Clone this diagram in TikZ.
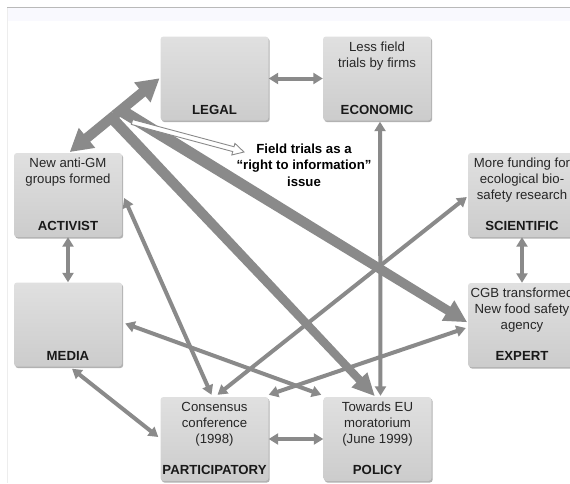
\documentclass[tikz,border=0pt]{standalone}
\usepackage{fontspec}
\setmainfont{Liberation Sans}
\usetikzlibrary{arrows.meta,calc,shadows}
\definecolor{agray}{RGB}{138,138,138}
\definecolor{boxtop}{RGB}{224,224,224}
\definecolor{boxbot}{RGB}{204,204,204}
\definecolor{topline}{RGB}{185,185,185}
\definecolor{band}{RGB}{249,249,254}
\newcommand\wedgearrow[7][fill=agray]{%
 \path[#1] let \p1=(#2), \p2=(#3), \n1={atan2(\y2-\y1,\x2-\x1)} in
 ($(#2)+(\n1+90:#4)$) -- ($(#3)+(\n1+180:#7)+(\n1+90:#5)$) -- ($(#3)+(\n1+180:#7)+(\n1+90:#6)$) -- (#3) -- ($(#3)+(\n1+180:#7)+(\n1-90:#6)$) -- ($(#3)+(\n1+180:#7)+(\n1-90:#5)$) -- ($(#2)+(\n1-90:#4)$) -- cycle;}
\begin{document}
\begin{tikzpicture}[x=1pt,y=-1pt,
  boxstyle/.style={rectangle, rounded corners=3pt, minimum width=108pt, minimum height=84pt, inner sep=0pt,
    top color=boxtop, bottom color=boxbot, draw=none,
    drop shadow={shadow xshift=1.2pt, shadow yshift=-1.6pt, fill=black!55, opacity=0.55}},
  boxtext/.style={anchor=north, align=center, inner sep=0pt, font=\fontsize{13.2}{16}\selectfont, text=black!85},
  boxlabel/.style={anchor=base, inner sep=0pt, font=\fontsize{13.2}{16}\selectfont\bfseries, text=black!90},
  fieldtext/.style={align=center, inner sep=0pt, font=\fontsize{13.2}{16.5}\selectfont\bfseries},
  thinarr/.style={draw=agray, line width=4pt, {Triangle[width=11pt,length=9.5pt]}-{Triangle[width=11pt,length=9.5pt]}}
]
\useasboundingbox (0,0) rectangle (570,483);
\clip (0,0) rectangle (570,483);
\fill[white] (0,0) rectangle (570,483);
\fill[band] (8,8) rectangle (570,21);
\draw[topline, line width=1pt] (7,7.5) -- (570,7.5);
\draw[black!7, line width=0.8pt] (7.5,8) -- (7.5,483);

% boxes
\node[boxstyle] (legal) at (214.5,78.5) {};
\node[boxstyle] (economic) at (377,78.5) {};
\node[boxstyle] (activist) at (68,195) {};
\node[boxstyle] (scientific) at (522,195) {};
\node[boxstyle] (media) at (68,324.5) {};
\node[boxstyle] (expert) at (522,325) {};
\node[boxstyle] (participatory) at (214.5,439) {};
\node[boxstyle] (policy) at (377.5,439) {};

% thin connectors
\draw[thinarr] (legal.east) -- (economic.west);
\draw[thinarr] ($(economic.south)+(3,1)$) -- ($(policy.north)+(3,-1)$);
\draw[thinarr] (activist.south) -- (media.north);
\draw[thinarr] (scientific.south) -- (expert.north);
\draw[thinarr] (participatory.east) -- (policy.west);
\draw[thinarr] ($(media.south)+(4,2)$) -- ($(participatory.west)+(-2,-2)$);
\draw[thinarr] ($(activist.east)+(2,3)$) -- ($(participatory.north)+(-3,-2)$);
\draw[thinarr] ($(scientific.west)+(-1,2)$) -- ($(participatory.north)+(3,-2)$);
\draw[thinarr] ($(expert.west)+(-2,3)$) -- ($(participatory.north east)+(0,-2)$);
\draw[thinarr] ($(media.east)+(3,-1)$) -- ($(policy.north west)+(-2,-2)$);

% thick connectors
\coordinate (hubP) at (110,116);
\coordinate (hubE) at (122,111);
\coordinate (tipP) at ($(policy.north)+(-3,-1)$);
\coordinate (tipE) at ($(expert.west)+(-1,-3)$);
\coordinate (tipA) at ($(activist.north)+(2,-1)$);
\coordinate (tipL) at ($(legal.west)+(-1,0)$);
\coordinate (midAL) at ($(tipA)!0.5!(tipL)$);
\wedgearrow{hubP}{tipP}{5.5pt}{4pt}{11pt}{22pt}
\wedgearrow{hubE}{tipE}{6pt}{4.5pt}{12pt}{22pt}
\wedgearrow{midAL}{tipA}{5pt}{5pt}{13pt}{22pt}
\wedgearrow{midAL}{tipL}{5pt}{5pt}{13pt}{22pt}

% field trials text and white arrow
\node[fieldtext] (ftext) at (304,165) {Field trials as a\\“right to information”\\issue};
\coordinate (wStart) at (132,122);
\coordinate (wTip) at (244,152);
\wedgearrow[fill=white,draw=agray,line width=0.9pt]{wStart}{wTip}{2.5pt}{2.5pt}{6pt}{11pt}

% box texts
\node[boxtext] (economicT) at ($(economic.north)+(0,5)$) {Less field\\trials by firms};
\node[boxtext] (activistT) at ($(activist.north)+(0,5)$) {New anti-GM\\groups formed};
\node[boxtext] (scientificT) at ($(scientific.north)+(0,5)$) {More funding for\\ecological bio-\\safety research};
\node[boxtext] (expertT) at ($(expert.north)+(0,5)$) {CGB transformed\\New food safety\\agency};
\node[boxtext] (participatoryT) at ($(participatory.north)+(0,5)$) {Consensus\\conference\\(1998)};
\node[boxtext] (policyT) at ($(policy.north)+(0,5)$) {Towards EU\\moratorium\\(June 1999)};

\node[boxlabel] (legalL) at ($(legal.south)+(0,-6.5)$) {LEGAL};
\node[boxlabel] (economicL) at ($(economic.south)+(0,-6.5)$) {ECONOMIC};
\node[boxlabel] (activistL) at ($(activist.south)+(0,-6.5)$) {ACTIVIST};
\node[boxlabel] (scientificL) at ($(scientific.south)+(0,-6.5)$) {SCIENTIFIC};
\node[boxlabel] (mediaL) at ($(media.south)+(0,-6.5)$) {MEDIA};
\node[boxlabel] (expertL) at ($(expert.south)+(0,-6.5)$) {EXPERT};
\node[boxlabel] (participatoryL) at ($(participatory.south)+(0,-6.5)$) {PARTICIPATORY};
\node[boxlabel] (policyL) at ($(policy.south)+(0,-6.5)$) {POLICY};
\end{tikzpicture}
\end{document}
